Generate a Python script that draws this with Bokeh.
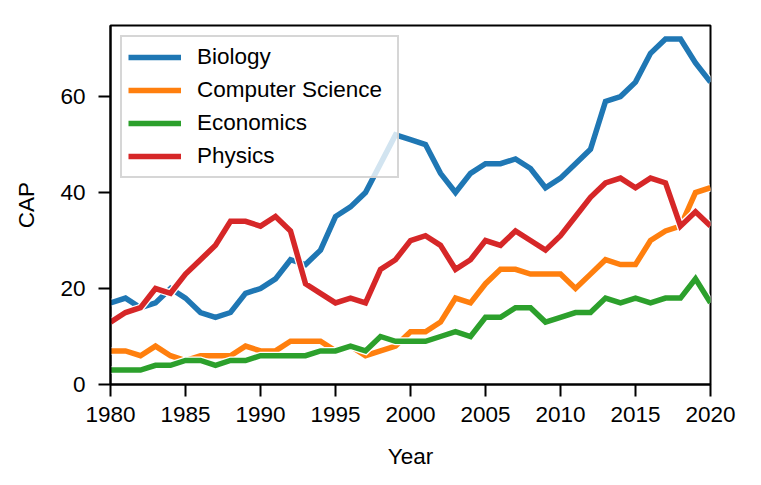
from bokeh.plotting import figure
from bokeh.models import Range1d, FixedTicker, Legend, LegendItem, ColumnDataSource
from bokeh.embed import file_html
from bokeh.resources import INLINE

years = list(range(1980, 2021))
biology = [17, 18, 16, 17, 20, 18, 15, 14, 15, 19,
           20, 22, 26, 25, 28, 35, 37, 40, 46, 52,
           51, 50, 44, 40, 44, 46, 46, 47, 45, 41,
           43, 46, 49, 59, 60, 63, 69, 72, 72, 67,
           63]
computer_science = [7, 7, 6, 8, 6, 5, 6, 6, 6, 8,
                    7, 7, 9, 9, 9, 7, 8, 6, 7, 8,
                    11, 11, 13, 18, 17, 21, 24, 24, 23, 23,
                    23, 20, 23, 26, 25, 25, 30, 32, 33, 40,
                    41]
economics = [3, 3, 3, 4, 4, 5, 5, 4, 5, 5,
             6, 6, 6, 6, 7, 7, 8, 7, 10, 9,
             9, 9, 10, 11, 10, 14, 14, 16, 16, 13,
             14, 15, 15, 18, 17, 18, 17, 18, 18, 22,
             17]
physics = [13, 15, 16, 20, 19, 23, 26, 29, 34, 34,
           33, 35, 32, 21, 19, 17, 18, 17, 24, 26,
           30, 31, 29, 24, 26, 30, 29, 32, 30, 28,
           31, 35, 39, 42, 43, 41, 43, 42, 33, 36,
           33]

series_names = ["Biology", "Computer Science", "Economics", "Physics"]
series_values = [biology, computer_science, economics, physics]
colors = ["#1f77b4", "#ff7f0e", "#2ca02c", "#d62728"]
x_ticks = [1980, 1985, 1990, 1995, 2000, 2005, 2010, 2015, 2020]
y_ticks = [0, 20, 40, 60]

FONT = "Liberation Sans"
FS = "22.5px"

p = figure(width=761, height=485, output_backend="svg", toolbar_location=None,
           x_range=Range1d(1980, 2020), y_range=Range1d(0, 74.8),
           min_border_left=110, min_border_right=51, min_border_top=25, min_border_bottom=101)

p.xgrid.grid_line_color = None
p.ygrid.grid_line_color = None
p.outline_line_color = "black"
p.outline_line_width = 2
p.outline_line_alpha = 1

for ax in (p.xaxis[0], p.yaxis[0]):
    ax.axis_line_width = 2
    ax.axis_line_color = "black"
    ax.major_tick_line_width = 2
    ax.major_tick_line_color = "black"
    ax.major_tick_out = 12
    ax.major_tick_in = 0
    ax.minor_tick_line_color = None
    ax.major_label_text_font = FONT
    ax.major_label_text_font_size = FS
    ax.major_label_text_color = "black"
    ax.axis_label_text_font = FONT
    ax.axis_label_text_font_size = FS
    ax.axis_label_text_font_style = "normal"
    ax.axis_label_text_color = "black"

p.xaxis.ticker = FixedTicker(ticks=x_ticks)
p.yaxis.ticker = FixedTicker(ticks=y_ticks)
p.xaxis.axis_label = "Year"
p.yaxis.axis_label = "CAP"
p.xaxis.major_label_standoff = 10
p.yaxis.major_label_standoff = 13
p.xaxis.axis_label_standoff = 19
p.yaxis.axis_label_standoff = 18

items = []
for name, vals, col in zip(series_names, series_values, colors):
    src = ColumnDataSource(dict(x=years, y=vals))
    p.line("x", "y", source=src, line_color="white", line_width=8,
           line_join="miter", line_cap="butt")
    r = p.line("x", "y", source=src, line_color=col, line_width=5.5,
               line_join="miter", line_cap="butt")
    items.append(LegendItem(label=name, renderers=[r]))

legend = Legend(items=items, location="top_left", margin=10, padding=6,
                spacing=5, glyph_width=53, glyph_height=28, label_height=28,
                label_width=194, label_standoff=16,
                label_text_font=FONT, label_text_font_size=FS,
                label_text_color="black",
                border_line_color="#cccccc", border_line_width=2.5, border_line_alpha=0.8,
                background_fill_color="white", background_fill_alpha=0.8)
p.add_layout(legend, "center")

open("out.html", "w").write(file_html(p, INLINE))
